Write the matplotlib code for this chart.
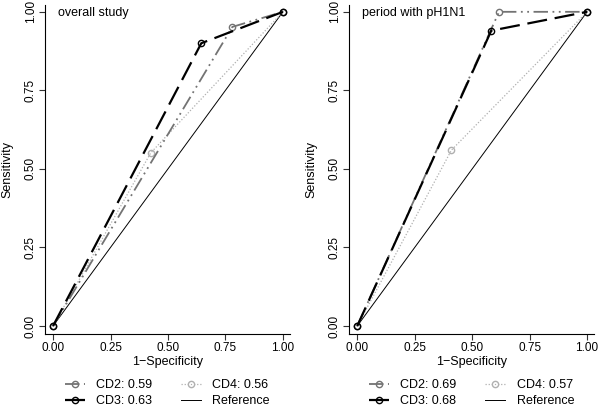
import matplotlib
matplotlib.use("Agg")
import matplotlib.pyplot as plt

plt.rcParams["font.family"] = ["Liberation Sans", "DejaVu Sans"]

# ROC points (1-specificity, sensitivity)
overall_fpr = {"CD2": [0, 0.78, 1], "CD3": [0, 0.645, 1], "CD4": [0, 0.425, 1]}
overall_tpr = {"CD2": [0, 0.952, 1], "CD3": [0, 0.90, 1], "CD4": [0, 0.551, 1]}
overall_auc = {"CD2": "0.59", "CD3": "0.63", "CD4": "0.56"}

h1n1_fpr = {"CD2": [0, 0.617, 1], "CD3": [0, 0.583, 1], "CD4": [0, 0.41, 1]}
h1n1_tpr = {"CD2": [0, 1.0, 1], "CD3": [0, 0.94, 1], "CD4": [0, 0.56, 1]}
h1n1_auc = {"CD2": "0.69", "CD3": "0.68", "CD4": "0.57"}

ticks = [0, 0.25, 0.5, 0.75, 1.0]
tick_labels = ["0.00", "0.25", "0.50", "0.75", "1.00"]

styles = {
    "CD2": dict(color="#737373", lw=1.3, ls=(0, (8, 2.5, 1, 2.5, 1, 2.5)), z=3),
    "CD3": dict(color="black", lw=1.6, ls=(0, (9, 3.5)), z=4),
    "CD4": dict(color="#b0b0b0", lw=0.9, ls=(0, (1, 1.5)), z=2),
}


def draw_panel(ax, fpr, tpr, auc, title):
    for name in ["CD2", "CD3", "CD4"]:
        st = styles[name]
        ax.plot(fpr[name], tpr[name], color=st["color"], lw=st["lw"], ls=st["ls"],
                marker="o", markersize=4.5, markerfacecolor="none",
                markeredgecolor=st["color"], markeredgewidth=1.0,
                zorder=st["z"], label=f"{name}: {auc[name]}")
    ax.plot([0, 1], [0, 1], color="black", lw=0.7, zorder=1, label="Reference")
    # ncol=2 fills by column: CD2, CD3 | CD4, Reference
    ax.legend(ncol=2, frameon=False, loc="upper center",
              bbox_to_anchor=(0.5, -0.118), fontsize=9, handlelength=1.6,
              handletextpad=0.9, columnspacing=2.3, labelspacing=0.3,
              borderpad=0)
    ax.set_xlim(-0.035, 1.03)
    ax.set_ylim(-0.026, 1.022)
    ax.set_xticks(ticks)
    ax.set_xticklabels(tick_labels)
    ax.set_yticks(ticks)
    ax.set_yticklabels(tick_labels, rotation=90, va="center")
    ax.tick_params(labelsize=8.5, length=4, width=0.8, pad=2, color="#333333")
    ax.spines["top"].set_visible(False)
    ax.spines["right"].set_visible(False)
    ax.spines["left"].set_linewidth(0.8)
    ax.spines["bottom"].set_linewidth(0.8)
    ax.set_xlabel("1\u2212Specificity", fontsize=9, labelpad=1)
    ax.set_ylabel("Sensitivity", fontsize=9, labelpad=8)
    ax.text(0.02, 0.995, title, fontsize=9, va="center", ha="left")


fig = plt.figure(figsize=(6, 4.09), dpi=100)
ax1 = fig.add_axes([0.075, 0.183, 0.408, 0.805])
ax2 = fig.add_axes([0.582, 0.183, 0.408, 0.805])

draw_panel(ax1, overall_fpr, overall_tpr, overall_auc, "overall study")
draw_panel(ax2, h1n1_fpr, h1n1_tpr, h1n1_auc, "period with pH1N1")

fig.savefig("out.png", dpi=100)
plt.close(fig)
